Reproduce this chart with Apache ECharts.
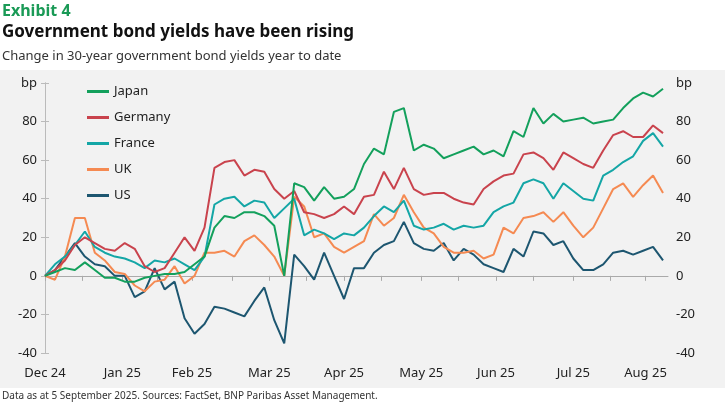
<!DOCTYPE html>
<html>
<head>
<meta charset="utf-8">
<script src="https://cdn.jsdelivr.net/npm/echarts@6/dist/echarts.min.js"></script>
<style>
  html, body { margin: 0; padding: 0; background: #fff; }
  #chart { width: 725px; height: 406px; }
</style>
</head>
<body>
<div id="chart"></div>
<script>
// days since 31 Dec 2024
const days = [0, 4, 8, 12, 16, 20, 24, 28, 32, 36, 40, 44, 48, 52, 56, 60, 64, 68, 72, 76, 80, 84, 88, 92, 96, 100, 104, 108, 112, 116, 120, 124, 128,
  132, 136, 140, 144, 148, 152, 156, 160, 164, 168, 172, 176, 180, 184, 188, 192, 196, 200, 204, 208, 212, 216, 220, 224, 228, 232, 236, 240, 244, 248];

const japan = [0, 2, 4, 3, 7, 3, -1, -1, -3, -3, -1, 0, 1, 1, 2, 6, 10, 25, 31, 30, 33, 33, 31, 26, 0, 48, 46, 39, 46, 40, 41, 45, 58,
  66, 63, 85, 87, 65, 68, 66, 61, 63, 65, 67, 63, 65, 62, 75, 72, 87, 79, 84, 80, 81, 82, 79, 80, 81, 87, 92, 95, 93, 97];
const germany = [0, 3, 8, 16, 20, 17, 14, 13, 17, 14, 5, 2, 4, 12, 20, 13, 25, 56, 59, 60, 52, 55, 54, 45, 40, 44, 33, 32, 30, 32, 36, 32, 41,
  42, 54, 45, 56, 45, 42, 43, 43, 40, 38, 37, 45, 49, 52, 53, 63, 64, 61, 55, 64, 61, 58, 56, 65, 73, 75, 72, 72, 78, 74];
const france = [0, 6, 10, 16, 23, 15, 12, 10, 9, 7, 4, 8, 7, 9, 6, 3, 10, 37, 40, 41, 36, 39, 38, 30, 35, 40, 21, 24, 22, 19, 22, 21, 25,
  31, 36, 33, 39, 26, 24, 25, 27, 24, 26, 25, 26, 33, 36, 38, 48, 50, 48, 40, 48, 44, 40, 39, 52, 55, 59, 62, 70, 74, 67];
const uk = [0, -2, 10, 30, 30, 12, 8, 2, 1, -5, -8, -3, -2, 5, -4, 0, 12, 12, 13, 10, 18, 21, 16, 10, 0, 41, 36, 20, 22, 15, 12, 15, 18,
  32, 26, 30, 42, 33, 25, 22, 15, 12, 12, 13, 9, 11, 25, 22, 30, 31, 33, 28, 33, 26, 20, 25, 35, 45, 48, 41, 47, 52, 43];
const us = [0, 3, 10, 17, 10, 6, 5, 0, 0, -11, -8, 4, -7, -3, -22, -30, -25, -16, -17, -19, -21, -13, -6, -23, -35, 11, 5, -2, 12, 0, -12, 4, 4,
  12, 16, 18, 28, 17, 14, 13, 17, 8, 14, 11, 6, 4, 2, 14, 10, 23, 22, 16, 18, 9, 3, 3, 6, 12, 13, 11, 13, 15, 8];

const monthDays = [0, 31, 59, 90, 120, 151, 181, 212, 241];
const monthLabels = ['Dec 24', 'Jan 25', 'Feb 25', 'Mar 25', 'Apr 25', 'May 25', 'Jun 25', 'Jul 25', 'Aug 25'];
const tickDays = [0, 15, 31, 45, 59, 75, 90, 105, 120, 135, 151, 166, 181, 196, 212, 227, 241];

const names = ['Japan', 'Germany', 'France', 'UK', 'US'];
const colors = ['#13a05c', '#c9434d', '#14a6a6', '#f58a52', '#1d5670'];
const values = [japan, germany, france, uk, us];

const font = 'Noto Sans';
let chart = echarts.init(document.getElementById('chart'));

const yAxisBase = {
  type: 'value', min: -40, max: 100, interval: 20,
  axisLine: { show: true, lineStyle: { color: '#bbb' } },
  axisTick: { show: true, length: 4, lineStyle: { color: '#bbb' } },
  splitLine: { show: false },
  axisLabel: {
    color: '#222', fontSize: 13, fontFamily: font,
    formatter: v => v === 100 ? 'bp' : v
  }
};

chart.setOption({
  backgroundColor: '#fff',
  animation: false,
  graphic: [
    { type: 'rect', shape: { x: 0, y: 70, width: 725, height: 318 }, style: { fill: '#f2f2f2' }, silent: true, z: -10 },
    { type: 'text', left: 2, top: 3, style: { text: 'Exhibit 4', fill: '#1a9a56', font: 'bold 16px ' + font } },
    { type: 'text', left: 2, top: 24, style: { text: 'Government bond yields have been rising', fill: '#111', font: 'bold 17px ' + font } },
    { type: 'text', left: 2, top: 50, style: { text: 'Change in 30-year government bond yields year to date', fill: '#333', font: '13px ' + font } },
    { type: 'text', left: 2, top: 391, style: { text: 'Data as at 5 September 2025. Sources: FactSet, BNP Paribas Asset Management.', fill: '#333', font: '10px ' + font } }
  ],
  legend: {
    orient: 'vertical', left: 82, top: 80, itemGap: 13,
    itemWidth: 22, itemHeight: 3, icon: 'rect',
    textStyle: { color: '#222', fontSize: 13, fontFamily: font },
    data: names
  },
  grid: { left: 45, right: 57, top: 83, bottom: 53, containLabel: false },
  xAxis: [
    {
      type: 'value', min: 0, max: 250,
      axisLine: { show: true, onZero: true, lineStyle: { color: '#aaa' } },
      axisTick: { show: true, length: 5, customValues: tickDays, lineStyle: { color: '#aaa' } },
      axisLabel: { show: false },
      splitLine: { show: false }
    },
    {
      type: 'value', min: 0, max: 250, position: 'bottom',
      axisLine: { show: false, onZero: false },
      axisTick: { show: false },
      splitLine: { show: false },
      axisLabel: {
        color: '#222', fontSize: 13, fontFamily: font, margin: 14,
        customValues: monthDays,
        formatter: v => monthLabels[monthDays.indexOf(v)]
      }
    }
  ],
  yAxis: [
    Object.assign({}, yAxisBase, { position: 'left' }),
    Object.assign({}, yAxisBase, { position: 'right' })
  ],
  series: names.map((n, i) => ({
    name: n, type: 'line', showSymbol: false, symbol: 'none',
    color: colors[i],
    lineStyle: { width: 2, color: colors[i] },
    data: days.map((d, k) => [d, values[i][k]]),
    z: 10 - i
  }))
});
</script>
</body>
</html>
